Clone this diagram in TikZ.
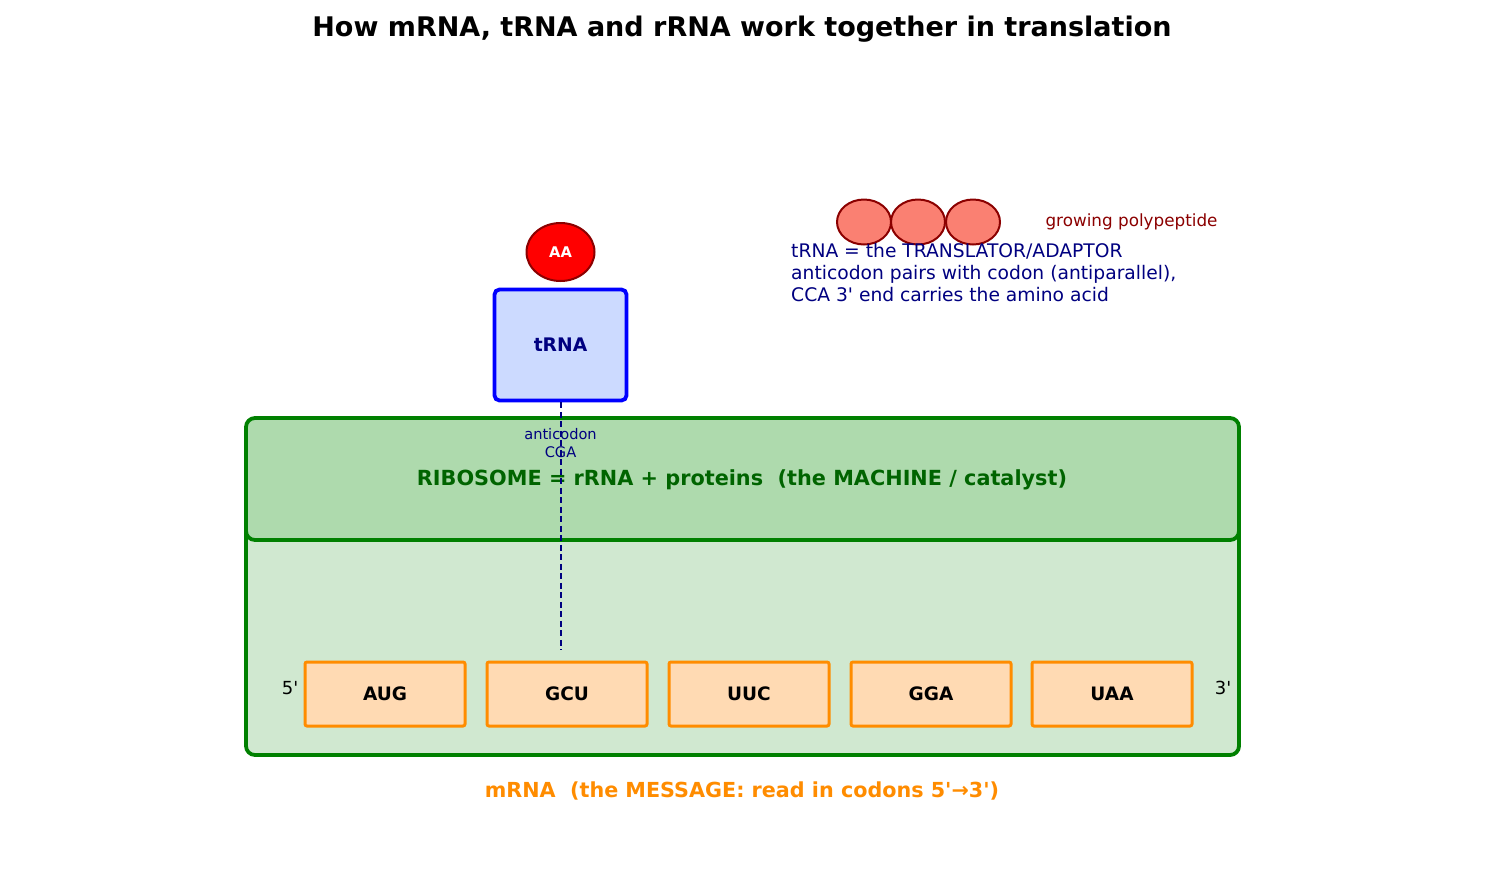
\documentclass[tikz,border=0pt]{standalone}
\usepackage{fontspec}
\setmainfont{DejaVu Sans}[Ligatures=TeXOff]
\usetikzlibrary{shapes.geometric}
\definecolor{dkgreen}{HTML}{008000}
\definecolor{ribofill}{HTML}{AEDAAD}
\definecolor{outerfill}{HTML}{D0E8D0}
\definecolor{trnafill}{HTML}{CCDAFF}
\definecolor{navyc}{HTML}{000080}
\definecolor{dkred}{HTML}{8B0000}
\definecolor{salmonc}{HTML}{FA8072}
\definecolor{peach}{HTML}{FFDAB3}
\definecolor{dkorange}{HTML}{FF8C00}
\definecolor{txtgreen}{HTML}{006400}
\tikzset{
  codon/.style={draw=dkorange, fill=peach, line width=3pt, rounded corners=2pt, minimum width=160pt, minimum height=64pt, inner sep=0pt, font=\fontsize{18.5}{22}\selectfont\bfseries},
  aa/.style={ellipse, draw=dkred, fill=salmonc, line width=2pt, minimum width=54pt, minimum height=45pt, inner sep=0pt},
}
\begin{document}
\begin{tikzpicture}[x=1pt,y=-1pt]
\useasboundingbox (0,0) rectangle (1485,884);
\node (title) at (742,29) {\fontsize{27}{32}\selectfont\bfseries How mRNA, tRNA and rRNA work together in translation};
% outer ribosome body
\draw[draw=dkgreen, fill=outerfill, line width=3.8pt, rounded corners=9pt] (246,480) rectangle (1239,755);
\node[draw=dkgreen, fill=ribofill, line width=3.8pt, rounded corners=9pt, minimum width=993pt, minimum height=122pt, inner sep=0pt] (ribo) at (742.5,479) {};
\node[text=txtgreen, font=\fontsize{20.8}{25}\selectfont\bfseries] (ribotext) at (742,480) {RIBOSOME = rRNA + proteins\ \ (the MACHINE / catalyst)};
% codons
\node[codon] (c1) at (385,694) {AUG};
\node[codon] (c2) at (567,694) {GCU};
\node[codon] (c3) at (749,694) {UUC};
\node[codon] (c4) at (931,694) {GGA};
\node[codon] (c5) at (1112,694) {UAA};
\node[font=\fontsize{18}{21}\selectfont] (five) at (290,688) {5'};
\node[font=\fontsize{18}{21}\selectfont] (three) at (1223,688) {3'};
% tRNA
\node[draw=blue, fill=trnafill, line width=3.8pt, rounded corners=5pt, minimum width=132pt, minimum height=111pt, inner sep=0pt, text=navyc, font=\fontsize{18.7}{22}\selectfont\bfseries] (trna) at (560.5,345) {tRNA};
\node[ellipse, draw=dkred, fill=red, line width=2pt, minimum width=68pt, minimum height=58pt, inner sep=0pt, text=white, font=\fontsize{14.7}{17}\selectfont\bfseries] (aa) at (560.5,252) {AA};
\coordinate (dashend) at (560.5,650);
\draw[navyc, line width=2pt, dash pattern=on 6pt off 3.5pt] (trna.south) -- (dashend);
\node[text=navyc, align=center, font=\fontsize{14.6}{18}\selectfont] (anti) at (560.5,443) {anticodon\\CGA};
% polypeptide
\node[aa] (p1) at (864,222) {};
\node[aa] (p2) at (918,222) {};
\node[aa] (p3) at (973,222) {};
\node[anchor=west, text=dkred, font=\fontsize{16.8}{20}\selectfont] (grow) at (1042,222) {growing polypeptide};
\node[anchor=north west, text=navyc, align=left, font=\fontsize{18.7}{22}\selectfont, inner sep=0pt] (desc) at (791,243) {tRNA = the TRANSLATOR/ADAPTOR\\anticodon pairs with codon (antiparallel),\\CCA 3' end carries the amino acid};
% mRNA label
\node[text=dkorange, font=\fontsize{20.7}{25}\selectfont\bfseries] (mrna) at (742,791) {mRNA\ \ (the MESSAGE: read in codons 5'→3')};
\end{tikzpicture}
\end{document}
